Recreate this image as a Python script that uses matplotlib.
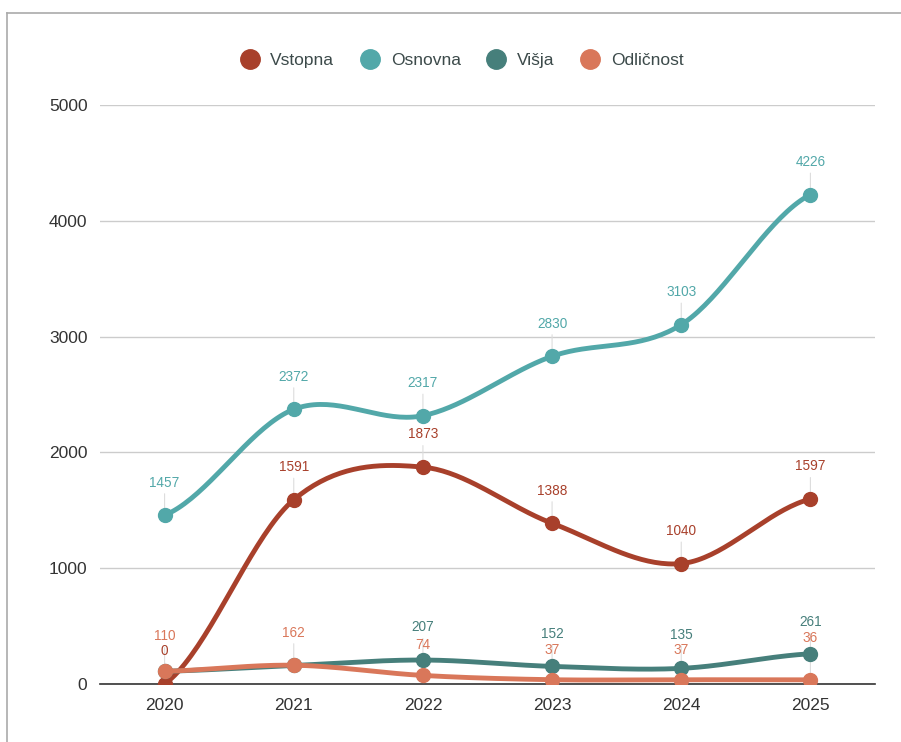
import matplotlib.pyplot as plt
from matplotlib.lines import Line2D
import numpy as np

# Podatki
years = ["2020", "2021", "2022", "2023", "2024", "2025"]
vstopna = [0, 1591, 1873, 1388, 1040, 1597]
osnovna = [1457, 2372, 2317, 2830, 3103, 4226]
visja = [110, 160, 207, 152, 135, 261]
odlicnost = [110, 162, 74, 37, 37, 36]

series = [
    ("Vstopna", vstopna, "#a8402b"),
    ("Osnovna", osnovna, "#52a8a9"),
    ("Višja", visja, "#467f7b"),
    ("Odličnost", odlicnost, "#d9775a"),
]

# oznake, ki so na sliki skrite pod drugimi
hidden = {("Višja", 0), ("Višja", 1)}
# popravki zamika oznak (v tockah)
extra = {("Odličnost", 5): 6.5, ("Višja", 5): -1, ("Odličnost", 0): 1.5,
         ("Odličnost", 2): -1.5, ("Odličnost", 3): -2.5, ("Odličnost", 4): -2.5,
         ("Višja", 4): 0.5}


def smooth(x, y, n=40, t=0.5):
    # Catmull-Rom krivulja skozi tocke
    x = np.asarray(x, float)
    y = np.asarray(y, float)
    px = np.concatenate([[2 * x[0] - x[1]], x, [2 * x[-1] - x[-2]]])
    py = np.concatenate([[y[0]], y, [y[-1]]])
    xs, ys = [], []
    for i in range(1, len(px) - 2):
        s = np.linspace(0, 1, n)
        for p, out in ((px, xs), (py, ys)):
            p0, p1, p2, p3 = p[i - 1], p[i], p[i + 1], p[i + 2]
            m1 = t * (p2 - p0)
            m2 = t * (p3 - p1)
            h00 = 2 * s**3 - 3 * s**2 + 1
            h10 = s**3 - 2 * s**2 + s
            h01 = -2 * s**3 + 3 * s**2
            h11 = s**3 - s**2
            out.extend(h00 * p1 + h10 * m1 + h01 * p2 + h11 * m2)
    return np.array(xs), np.array(ys)


plt.rcParams["font.family"] = ["Liberation Sans", "DejaVu Sans"]
fig = plt.figure(figsize=(9.01, 7.42), dpi=100)
ax = fig.add_axes([100 / 901, 58 / 742, 775 / 901, (684 - 105) / 742])

xi = np.arange(len(years))
for z, (name, vals, col) in enumerate(series):
    sx, sy = smooth(xi, vals)
    ax.plot(sx, sy, color=col, lw=3.5, zorder=3 + z, solid_capstyle="round")
    ax.plot(xi, vals, "o", color=col, ms=10, zorder=3 + z)
    for i, v in enumerate(vals):
        if (name, i) in hidden:
            continue
        off = 18.5 + extra.get((name, i), 0)
        ax.annotate("", xy=(i, v), xytext=(0, off - 3), textcoords="offset points",
                    arrowprops=dict(arrowstyle="-", color="#dddddd", lw=0.8,
                                    shrinkA=0, shrinkB=5), zorder=2)
        ax.annotate(str(v), xy=(i, v), xytext=(0, off), textcoords="offset points",
                    ha="center", va="bottom", fontsize=9.8, color=col, zorder=10)

ax.set_xlim(-0.5, 5.5)
ax.set_ylim(0, 5000)
ax.set_yticks([0, 1000, 2000, 3000, 4000, 5000])
ax.set_xticks(xi)
ax.set_xticklabels(years)
ax.tick_params(length=0, labelsize=12.5, labelcolor="#333333", pad=10)
ax.tick_params(axis="y", pad=9)
ax.grid(axis="y", color="#cccccc", lw=1)
ax.set_axisbelow(True)
for s in ["top", "right", "left"]:
    ax.spines[s].set_visible(False)
ax.spines["bottom"].set_color("#333333")
ax.spines["bottom"].set_linewidth(1.2)
ax.spines["bottom"].set_zorder(2)

handles = [Line2D([], [], marker="o", ls="", ms=14, color=c) for _, _, c in series]
fig.legend(handles, [n for n, _, _ in series], loc="center", bbox_to_anchor=(458 / 901, 1 - 60 / 742),
           ncol=4, frameon=False, fontsize=12.5, labelcolor="#3c4a4a", handletextpad=0.2,
           columnspacing=1.05)

# okvir
fig.add_artist(Line2D([7 / 901, 1], [1 - 13 / 742, 1 - 13 / 742], color="#aaaaaa", lw=1.2))
fig.add_artist(Line2D([7 / 901, 7 / 901], [0, 1 - 13 / 742], color="#aaaaaa", lw=1.2))

fig.savefig("out.png", dpi=100)
